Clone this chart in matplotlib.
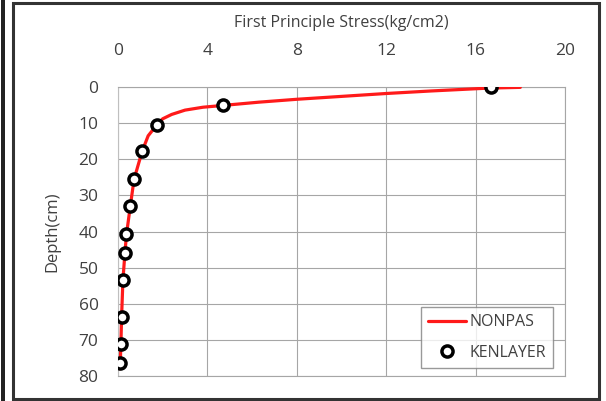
import matplotlib.pyplot as plt
from matplotlib.patches import Rectangle

# NONPAS curve (stress, depth)
nonpas_stress = [18.0, 16.6, 14.0, 12.0, 10.0, 8.0, 6.3, 4.7, 3.8, 3.0, 2.4, 2.0,
                 1.75, 1.35, 1.08, 0.72, 0.55, 0.38, 0.31, 0.22, 0.16, 0.13, 0.10, 0.09]
nonpas_depth = [0.1, 0.3, 1.1, 1.8, 2.6, 3.4, 4.2, 5.1, 5.6, 6.4, 7.6, 8.8,
                10.4, 13.5, 17.8, 25.5, 33.0, 40.8, 45.9, 53.5, 63.7, 71.2, 76.5, 78.0]

# KENLAYER points
ken_stress = [16.7, 4.7, 1.76, 1.09, 0.72, 0.55, 0.37, 0.31, 0.22, 0.16, 0.13, 0.10]
ken_depth = [0.0, 5.0, 10.4, 17.8, 25.5, 33.0, 40.8, 45.9, 53.5, 63.7, 71.2, 76.5]

x_ticks = [0, 4, 8, 12, 16, 20]
y_ticks = [0, 10, 20, 30, 40, 50, 60, 70, 80]

plt.rcParams['font.family'] = ['Open Sans', 'DejaVu Sans']
txt = '#404040'
grid = '#a6a6a6'

fig = plt.figure(figsize=(6.06, 4.01), dpi=100)
ax = fig.add_axes([118 / 606, 1 - 376 / 401, (565 - 118) / 606, (376 - 87) / 401])

ax.plot(nonpas_stress, nonpas_depth, color='#ff1a1a', lw=2.3, label='NONPAS',
        solid_capstyle='round', solid_joinstyle='round', zorder=3)
ax.plot(ken_stress, ken_depth, ls='none', marker='o', ms=8, mfc='white',
        mec='black', mew=2.5, label='KENLAYER', zorder=4)

ax.set_xlim(0, 20)
ax.set_ylim(80, 0)
ax.set_xticks(x_ticks)
ax.set_yticks(y_ticks)
ax.xaxis.tick_top()
ax.xaxis.set_label_position('top')
ax.tick_params(length=0, labelsize=12.5, labelcolor=txt)
ax.tick_params(axis='x', pad=20)
ax.tick_params(axis='y', pad=14)
ax.grid(True, color=grid, lw=0.8)
for s in ax.spines.values():
    s.set_color(grid)
    s.set_linewidth(0.8)
ax.spines['left'].set_color('#bfbfbf')

ax.set_xlabel('First Principle Stress(kg/cm2)', fontsize=11.5, color=txt, labelpad=12)
ax.set_ylabel('Depth(cm)', fontsize=12, color=txt, labelpad=13)

leg = ax.legend(loc='lower right', bbox_to_anchor=(553 / 606, 1 - 368 / 401),
                bbox_transform=fig.transFigure, fontsize=11.5, frameon=True,
                fancybox=False, edgecolor='#808080', handlelength=2.4,
                labelspacing=0.9, borderpad=0.45, handletextpad=0.2,
                borderaxespad=0)
leg.get_frame().set_linewidth(1.0)
for t in leg.get_texts():
    t.set_color(txt)

# outer frame and stray border on left
fig.patches.append(Rectangle((13 / 606, 2 / 401), 586 / 606, 396 / 401,
                             transform=fig.transFigure, fill=False,
                             edgecolor='#333333', lw=2.2))
fig.patches.append(Rectangle((1 / 606, 0), 4 / 606, 1,
                             transform=fig.transFigure, color='#222222', lw=0))

fig.savefig('out.png', dpi=100)
